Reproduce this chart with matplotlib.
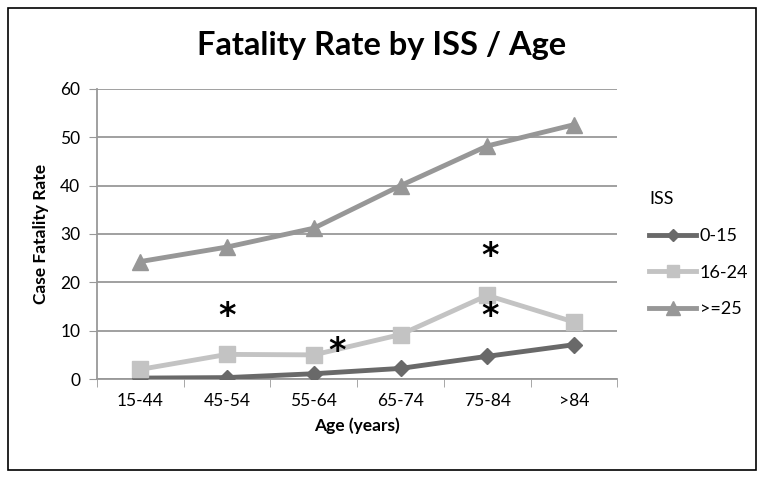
import matplotlib
matplotlib.use("Agg")
import matplotlib.pyplot as plt
from matplotlib.patches import Rectangle

plt.rcParams['font.family'] = ['Lato', 'DejaVu Sans']

ages = ['15-44', '45-54', '55-64', '65-74', '75-84', '>84']
iss_low = [0.2, 0.3, 1.1, 2.2, 4.7, 7.1]
iss_mid = [2.0, 5.1, 5.0, 9.2, 17.3, 11.8]
iss_high = [24.3, 27.3, 31.2, 40.0, 48.2, 52.6]

# significance markers (x position in category units, y value)
star_x = [1.0, 2.27, 4.03, 4.03]
star_y = [13.0, 5.6, 25.3, 13.0]

fig = plt.figure(figsize=(7.64, 4.78), dpi=100)
ax = fig.add_axes([0.127, 0.207, 0.681, 0.607])

x = list(range(len(ages)))
ax.plot(x, iss_low, color='#696969', lw=3.5, marker='D', ms=8, label='0-15', zorder=3)
ax.plot(x, iss_mid, color='#c3c3c3', lw=3.5, marker='s', ms=11, label='16-24', zorder=3)
ax.plot(x, iss_high, color='#979797', lw=3.5, marker='^', ms=12, label='>=25', zorder=3)

for sx, sy in zip(star_x, star_y):
    ax.text(sx, sy, '*', fontsize=24, fontweight='bold', ha='center', va='center',
            family='DejaVu Sans', zorder=4)

ax.set_xlim(-0.5, 5.5)
ax.set_ylim(0, 60)
ax.set_yticks(range(0, 61, 10))
ax.set_xticks(x)
ax.set_xticklabels(ages)
ax.set_xticks([i - 0.5 for i in range(len(ages) + 1)], minor=True)
ax.tick_params(axis='x', which='major', length=0, pad=10, labelsize=12.5)
ax.tick_params(axis='x', which='minor', length=6, color='#999999', direction='out')
ax.tick_params(axis='y', length=6, color='#999999', labelsize=12.5, pad=6)
ax.grid(axis='y', color='#999999', lw=1.3)
ax.set_axisbelow(True)
for side in ['top', 'right']:
    ax.spines[side].set_visible(False)
for side in ['left', 'bottom']:
    ax.spines[side].set_color('#999999')
    ax.spines[side].set_linewidth(1.3)

ax.set_xlabel('Age (years)', fontsize=12.5, fontweight='bold', labelpad=6)
ax.set_ylabel('Case Fatality Rate', fontsize=12.5, fontweight='bold', labelpad=8)

fig.text(0.5, 0.905, 'Fatality Rate by ISS / Age', ha='center', va='center',
         fontsize=23.5, fontweight='bold')

leg = ax.legend(loc='center left', bbox_to_anchor=(1.03, 0.43), frameon=False,
                title='ISS', fontsize=13, title_fontsize=13, handlelength=2.6,
                labelspacing=1.15, handletextpad=0.2, markerscale=0.8)
leg._legend_box.align = 'left'

fig.patches.append(Rectangle((0.011, 0.017), 0.979, 0.966, transform=fig.transFigure,
                             fill=False, edgecolor='black', lw=1.2))

fig.savefig('out.png', dpi=100)
